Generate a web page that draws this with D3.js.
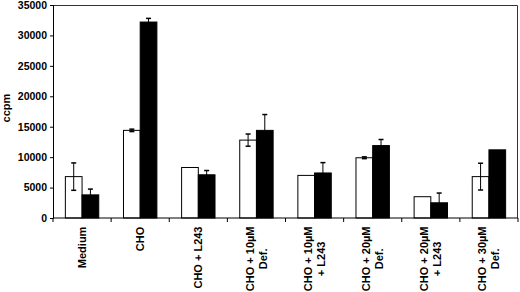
<!DOCTYPE html>
<html>
<head>
<meta charset="utf-8">
<script src="https://cdn.jsdelivr.net/npm/d3@7"></script>
<style>
  body { margin: 0; background: #fff; }
  text { font-family: "Liberation Sans", Arial, sans-serif; font-weight: bold; fill: #000; }
</style>
</head>
<body>
<div id="chart"></div>
<script>
// Categories (each label split into lines)
var categories = [
    ["Medium"],
    ["CHO"],
    ["CHO + L243"],
    ["CHO + 10\u00b5M", "Def."],
    ["CHO + 10\u00b5M", "+ L243"],
    ["CHO + 20\u00b5M", "Def."],
    ["CHO + 20\u00b5M", "+ L243"],
    ["CHO + 30\u00b5M", "Def."]
];

// Series values (ccpm) and error bars
var whiteValues = [6800, 14400, 8300, 12800, 7000, 9900, 3500, 6800];
var whiteErrors = [2250, 200, 0, 1000, 0, 150, 0, 2200];
var blackValues = [3800, 32200, 7100, 14400, 7400, 11900, 2500, 11200];
var blackErrors = [950, 600, 700, 2600, 1700, 1000, 1600, 0];

var yTicks = [0, 5000, 10000, 15000, 20000, 25000, 30000, 35000];

var width = 520, height = 292;
var margin = { top: 5, right: 2, bottom: 74, left: 53 };
var plotW = width - margin.left - margin.right;
var plotH = height - margin.top - margin.bottom;

var svg = d3.select("#chart")
    .append("svg")
    .attr("width", width)
    .attr("height", height);

var g = svg.append("g")
    .attr("transform", "translate(" + margin.left + "," + margin.top + ")");

var x0 = d3.scaleBand()
    .domain(d3.range(categories.length))
    .range([0, plotW])
    .padding(0);

var x1 = d3.scaleBand()
    .domain(["white", "black"])
    .range([0, x0.bandwidth()])
    .paddingInner(0)
    .paddingOuter(0.74);

var y = d3.scaleLinear()
    .domain([0, 35000])
    .range([plotH, 0]);

// Frame (top and right)
g.append("path")
    .attr("d", "M0,0.5H" + (plotW - 0.5) + "V" + plotH)
    .attr("fill", "none")
    .attr("stroke", "#333")
    .attr("stroke-width", 1);

// Build rows of data
var rows = categories.map(function (c, i) {
    return [
        { key: "white", i: i, value: whiteValues[i], err: whiteErrors[i] },
        { key: "black", i: i, value: blackValues[i], err: blackErrors[i] }
    ];
});
var bars = d3.merge(rows);

// Bars
g.selectAll("rect.bar")
    .data(bars)
    .enter().append("rect")
    .attr("class", "bar")
    .attr("x", function (d) { return x0(d.i) + x1(d.key); })
    .attr("y", function (d) { return y(d.value); })
    .attr("width", x1.bandwidth())
    .attr("height", function (d) { return plotH - y(d.value); })
    .attr("fill", function (d) { return d.key === "white" ? "#fff" : "#000"; })
    .attr("stroke", "#000")
    .attr("stroke-width", 1);

// Error bars
var errs = g.selectAll("g.err")
    .data(bars.filter(function (d) { return d.err > 0; }))
    .enter().append("g")
    .attr("class", "err")
    .attr("transform", function (d) {
        return "translate(" + (x0(d.i) + x1(d.key) + x1.bandwidth() / 2) + ",0)";
    });

errs.append("line")
    .attr("y1", function (d) { return y(d.value + d.err); })
    .attr("y2", function (d) { return y(Math.max(0, d.value - d.err)); })
    .attr("stroke", "#000");

errs.append("line")
    .attr("x1", -2.5).attr("x2", 2.5)
    .attr("y1", function (d) { return y(d.value + d.err); })
    .attr("y2", function (d) { return y(d.value + d.err); })
    .attr("stroke", "#000")
    .attr("stroke-width", 1.5);

errs.append("line")
    .attr("x1", -2.5).attr("x2", 2.5)
    .attr("y1", function (d) { return y(Math.max(0, d.value - d.err)); })
    .attr("y2", function (d) { return y(Math.max(0, d.value - d.err)); })
    .attr("stroke", "#000")
    .attr("stroke-width", 1.5);

// Y axis
var yAxis = g.append("g")
    .call(d3.axisLeft(y).tickValues(yTicks).tickSize(3).tickPadding(3).tickFormat(d3.format("d")));
yAxis.select(".domain").attr("stroke", "#000");
yAxis.selectAll("text").style("font-size", "10.5px");

// X axis: ticks at band boundaries
var xAxis = g.append("g")
    .attr("transform", "translate(0," + plotH + ")");
xAxis.append("line")
    .attr("x1", 0).attr("x2", plotW)
    .attr("stroke", "#000");
xAxis.selectAll("line.tick")
    .data(d3.range(categories.length + 1))
    .enter().append("line")
    .attr("class", "tick")
    .attr("x1", function (i) { return i * x0.step(); })
    .attr("x2", function (i) { return i * x0.step(); })
    .attr("y1", 0).attr("y2", 4)
    .attr("stroke", "#000");

// Category labels (rotated, multi-line centred)
var fontSize = 11;
var lineH = 13;
var labels = xAxis.selectAll("g.lbl")
    .data(categories)
    .enter().append("g")
    .attr("class", "lbl")
    .attr("transform", function (d, i) {
        return "translate(" + (x0(i) + x0.bandwidth() / 2) + ",8.5) rotate(-90)";
    });

labels.each(function (lines) {
    var sel = d3.select(this);
    var txt = sel.append("text")
        .style("font-size", fontSize + "px")
        .attr("text-anchor", "middle");
    var n = lines.length;
    lines.forEach(function (line, k) {
        txt.append("tspan")
            .attr("x", 0)
            .attr("y", (k - (n - 1) / 2) * lineH)
            .attr("dy", "0.35em")
            .text(line);
    });
    // shift so the longest line ends at the axis
    var w = txt.node().getBBox().width;
    txt.attr("transform", "translate(" + (-w / 2) + ",0)");
});

// Y axis title
svg.append("text")
    .attr("transform", "translate(9.5,108) rotate(-90)")
    .attr("text-anchor", "middle")
    .style("font-size", "11px")
    .text("ccpm");
</script>
</body>
</html>
